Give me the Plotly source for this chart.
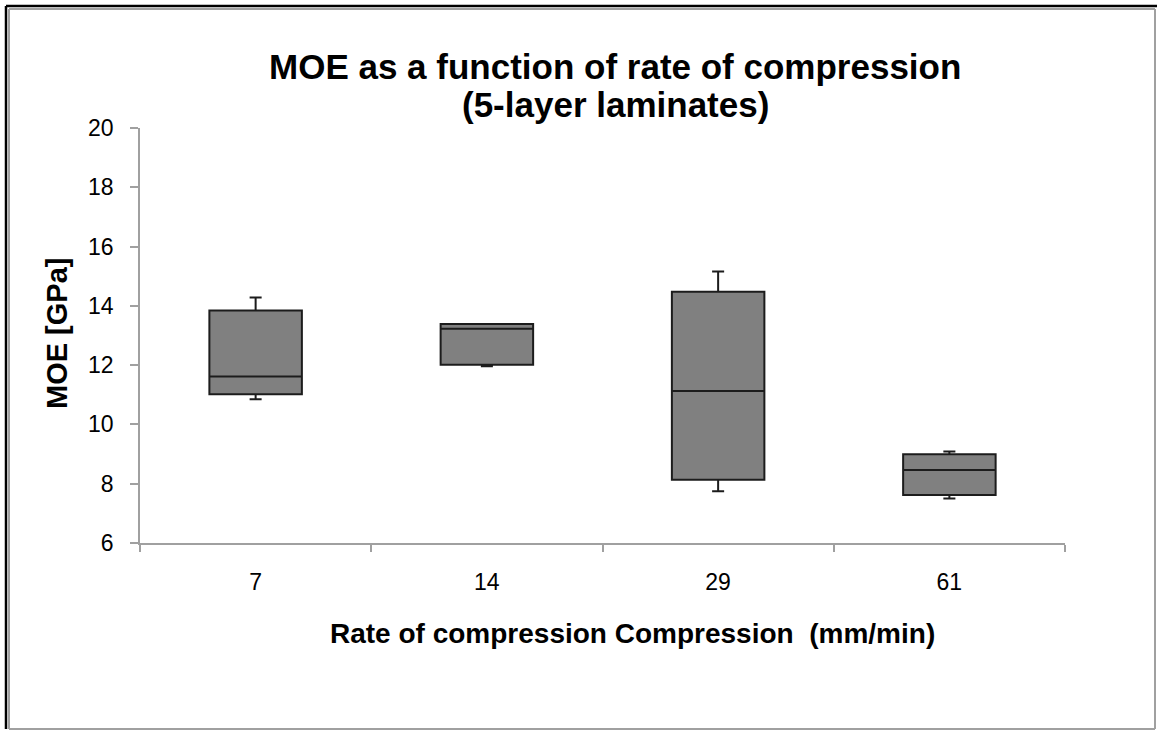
import plotly.graph_objects as go

# Compression rates (mm/min) and MOE box statistics (GPa)
rates = ["7", "14", "29", "61"]
q1_vals = [11.02, 12.01, 8.13, 7.62]
median_vals = [11.62, 13.23, 11.13, 8.46]
q3_vals = [13.84, 13.39, 14.48, 8.99]
low_vals = [10.85, 11.96, 7.75, 7.50]
high_vals = [14.28, 13.39, 15.16, 9.09]
y_ticks = [6, 8, 10, 12, 14, 16, 18, 20]

W, H = 1157, 731
L, R, T, B = 140, 1065, 128, 543  # plot area in pixels

def px_x(px):
    return (px - L) / (R - L)

def px_y(py):
    return (B - py) / (B - T)

FONT = "Liberation Sans, Arial, sans-serif"

fig = go.Figure()
fig.add_trace(go.Box(
    x=rates,
    q1=q1_vals,
    median=median_vals,
    q3=q3_vals,
    lowerfence=low_vals,
    upperfence=high_vals,
    boxpoints=False,
    width=0.4,
    whiskerwidth=0.13,
    fillcolor="#808080",
    line=dict(color="#1c1c1c", width=2),
    showlegend=False,
))

fig.update_layout(
    width=W, height=H,
    margin=dict(l=L, r=W - R, t=T, b=H - B, autoexpand=False),
    paper_bgcolor="white",
    plot_bgcolor="white",
    font=dict(family=FONT, color="black"),
    xaxis=dict(
        type="category",
        range=[-0.5, 3.5],
        showline=True, linecolor="#a0a0a0", linewidth=1.5,
        ticks="outside", tickson="boundaries", ticklen=7, tickcolor="#a0a0a0", tickwidth=1.5,
        tickfont=dict(size=23, family=FONT),
        ticklabelstandoff=18,
        showgrid=False, zeroline=False,
    ),
    yaxis=dict(
        range=[6, 20],
        tickvals=y_ticks,
        showline=True, linecolor="#a0a0a0", linewidth=1.5,
        ticks="outside", ticklen=8, tickcolor="#a0a0a0", tickwidth=1.5,
        tickfont=dict(size=23, family=FONT),
        ticklabelstandoff=12,
        showgrid=False, zeroline=False,
    ),
)

# Titles
fig.add_annotation(text="<b>MOE as a function of rate of compression</b>",
                   xref="paper", yref="paper", x=px_x(615), y=px_y(66),
                   showarrow=False, font=dict(size=35, family=FONT),
                   xanchor="center", yanchor="middle")
fig.add_annotation(text="<b>(5-layer laminates)</b>",
                   xref="paper", yref="paper", x=px_x(615), y=px_y(104),
                   showarrow=False, font=dict(size=35, family=FONT),
                   xanchor="center", yanchor="middle")
fig.add_annotation(text="<b>Rate of compression Compression\u00a0 (mm/min)</b>",
                   xref="paper", yref="paper", x=px_x(632), y=px_y(633),
                   showarrow=False, font=dict(size=28, family=FONT),
                   xanchor="center", yanchor="middle")
fig.add_annotation(text="<b>MOE [GPa]</b>",
                   xref="paper", yref="paper", x=px_x(57), y=px_y(334),
                   showarrow=False, textangle=-90, font=dict(size=29, family=FONT),
                   xanchor="center", yanchor="middle")

# Chart-area frame
frame = [
    (9, 9, 1155, 9, "#a0a0a0", 2),
    (9, 729, 1155, 729, "#a0a0a0", 2),
    (9, 9, 9, 729, "#a0a0a0", 2),
    (1155, 9, 1155, 729, "#a0a0a0", 2),
    (6, 6, 1157, 6, "black", 2.5),
    (6, 6, 6, 729, "black", 2.5),
]
for x0, y0, x1, y1, c, w in frame:
    fig.add_shape(type="line", xref="paper", yref="paper",
                  x0=px_x(x0), y0=px_y(y0), x1=px_x(x1), y1=px_y(y1),
                  line=dict(color=c, width=w))

fig.write_html("out.html")
